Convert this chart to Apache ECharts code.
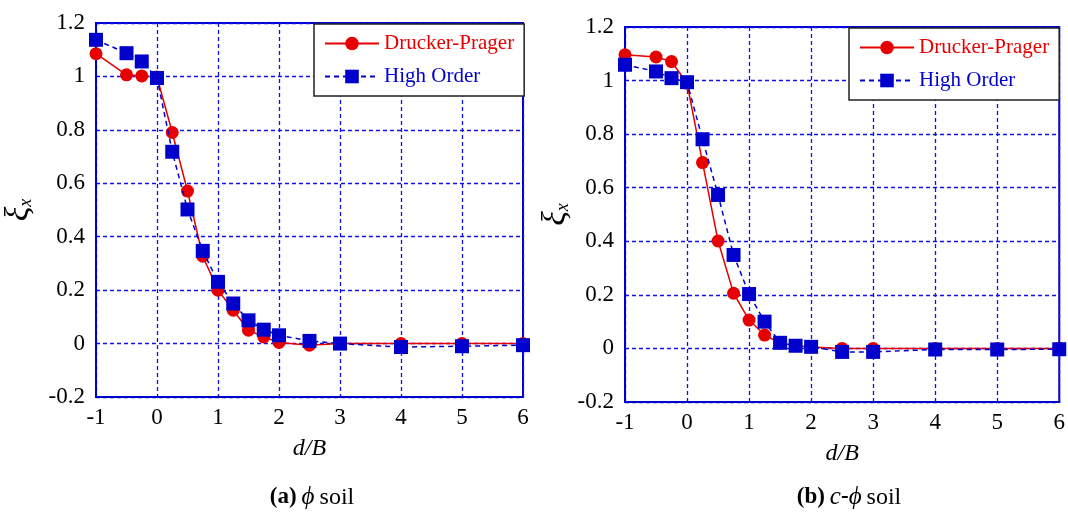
<!DOCTYPE html>
<html>
<head>
<meta charset="utf-8">
<script src="https://cdn.jsdelivr.net/npm/echarts@6/dist/echarts.min.js"></script>
<style>
  html, body { margin: 0; padding: 0; background: #fff; }
  #chart { width: 1068px; height: 516px; }
</style>
</head>
<body>
<div id="chart"></div>
<script>
// Normalised distance d/B (shared by both panels)
const dB = [-1, -0.5, -0.25, 0, 0.25, 0.5, 0.75, 1, 1.25, 1.5, 1.75, 2, 2.5, 3, 4, 5, 6];

// Panel (a): phi soil
const phiDP = [1.085, 1.006, 1.002, 0.998, 0.79, 0.571, 0.327, 0.2, 0.125, 0.05, 0.025, 0.004, -0.006, 0, 0, 0, 0];
const phiHO = [1.137, 1.087, 1.056, 0.994, 0.718, 0.502, 0.347, 0.231, 0.15, 0.087, 0.052, 0.031, 0.01, 0.0, -0.013, -0.01, -0.006];

// Panel (b): c-phi soil
const cphiDP = [1.096, 1.088, 1.071, 0.99, 0.694, 0.401, 0.206, 0.106, 0.05, 0.02, 0.01, 0.005, 0, 0, 0, 0, 0];
const cphiHO = [1.059, 1.034, 1.009, 0.994, 0.781, 0.573, 0.349, 0.203, 0.1, 0.021, 0.01, 0.006, -0.013, -0.013, -0.004, -0.004, -0.003];

const xTicks = { min: -1, max: 6, interval: 1 };
const yTicks = { min: -0.2, max: 1.2, interval: 0.2 };

const seriesNames = ['Drucker-Prager', 'High Order'];

const SERIF = '"Liberation Serif", "Times New Roman", serif';
const RED = '#e60000';
const BLUE = '#0000cc';
const GRIDBLUE = '#1010ee';

const pairs = v => dB.map((x, i) => [x, v[i]]);

function makeX(gridIndex) {
  return {
    type: 'value', gridIndex,
    min: xTicks.min, max: xTicks.max, interval: xTicks.interval,
    name: 'd/B', nameLocation: 'middle', nameGap: 40,
    nameTextStyle: { fontFamily: SERIF, fontSize: 24, fontStyle: 'italic', color: '#000' },
    axisLine: { show: true, onZero: false, lineStyle: { color: BLUE, width: 2 } },
    axisTick: { show: false },
    axisLabel: { fontFamily: SERIF, fontSize: 23, color: '#000', margin: 9 },
    splitLine: { show: true, lineStyle: { color: GRIDBLUE, type: [4, 3], width: 1.3 } }
  };
}

function makeY(gridIndex, gap) {
  return {
    type: 'value', gridIndex,
    min: yTicks.min, max: yTicks.max, interval: yTicks.interval,
    name: '{xi|ξ}{sub|x}', nameLocation: 'middle', nameGap: gap, nameRotate: 90,
    nameTextStyle: {
      fontFamily: SERIF, fontSize: 30, fontStyle: 'italic', color: '#000',
      rich: {
        xi: { fontFamily: SERIF, fontSize: 34, fontStyle: 'italic', color: '#000' },
        sub: { fontFamily: SERIF, fontSize: 18, fontStyle: 'italic', color: '#000', padding: [15, 0, 0, 0] }
      }
    },
    axisLine: { show: true, onZero: false, lineStyle: { color: BLUE, width: 2 } },
    axisTick: { show: false },
    axisLabel: { fontFamily: SERIF, fontSize: 23, color: '#000', margin: 11 },
    splitLine: { show: true, lineStyle: { color: GRIDBLUE, type: [4, 3], width: 1.3 } }
  };
}

function makeLegend(left, top) {
  return {
    orient: 'vertical', left, top,
    padding: [9, 10, 9, 10],
    itemGap: 12, itemWidth: 54, itemHeight: 17,
    backgroundColor: '#fff', borderColor: '#222', borderWidth: 1.5,
    textStyle: { fontFamily: SERIF, fontSize: 21 },
    data: [
      { name: seriesNames[0], textStyle: { color: RED } },
      { name: seriesNames[1], textStyle: { color: BLUE } }
    ]
  };
}

function dpSeries(idx, vals) {
  return {
    name: seriesNames[0], type: 'line', xAxisIndex: idx, yAxisIndex: idx,
    data: pairs(vals), symbol: 'circle', symbolSize: 13,
    itemStyle: { color: RED }, lineStyle: { color: RED, width: 1.5 },
    z: 2, animation: false
  };
}

function hoSeries(idx, vals) {
  return {
    name: seriesNames[1], type: 'line', xAxisIndex: idx, yAxisIndex: idx,
    data: pairs(vals), symbol: 'rect', symbolSize: 14,
    itemStyle: { color: BLUE }, lineStyle: { color: BLUE, width: 1.5, type: [5, 4] },
    z: 3, animation: false
  };
}

const captionRich = {
  b: { fontFamily: SERIF, fontSize: 23, fontWeight: 'bold', color: '#000' },
  i: { fontFamily: SERIF, fontSize: 25, fontStyle: 'italic', fontWeight: 'normal', color: '#000' },
  n: { fontFamily: SERIF, fontSize: 24, fontWeight: 'normal', color: '#000' }
};

const chart = echarts.init(document.getElementById('chart'), null, { renderer: 'canvas' });
chart.setOption({
  backgroundColor: '#fff',
  animation: false,
  title: [
    {
      text: '{b|(a)} {i|ϕ} {n|soil}', left: 307, top: 480, textAlign: 'center',
      textStyle: { fontWeight: 'normal', rich: captionRich }
    },
    {
      text: '{b|(b)} {i|c}{b|-}{i|ϕ} {n|soil}', left: 844, top: 480, textAlign: 'center',
      textStyle: { fontWeight: 'normal', rich: captionRich }
    }
  ],
  grid: [
    { left: 96, top: 23, width: 427, height: 374, show: true, borderColor: BLUE, borderWidth: 2 },
    { left: 625, top: 27, width: 438, height: 375, show: true, borderColor: BLUE, borderWidth: 2 }
  ],
  xAxis: [makeX(0), makeX(1)],
  yAxis: [makeY(0, 60), makeY(1, 52)],
  legend: [makeLegend(314, 24), makeLegend(849, 28)],
  series: [
    dpSeries(0, phiDP), hoSeries(0, phiHO),
    dpSeries(1, cphiDP), hoSeries(1, cphiHO)
  ]
});
</script>
</body>
</html>
